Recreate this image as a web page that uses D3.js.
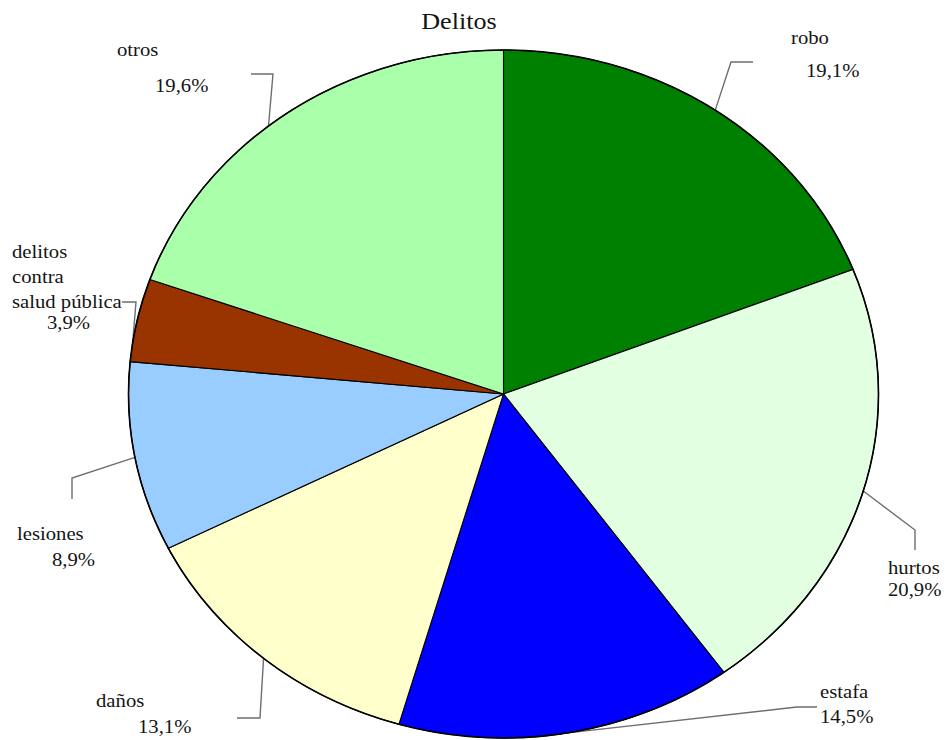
<!DOCTYPE html>
<html>
<head>
<meta charset="utf-8">
<script src="https://cdn.jsdelivr.net/npm/d3@7"></script>
<style>
  html, body { margin: 0; padding: 0; background: #ffffff; }
  svg { display: block; }
</style>
</head>
<body>
<svg id="chart" width="946" height="740"></svg>
<script>
// Data
const title = "Delitos";
const categories = ["robo", "hurtos", "estafa", "daños", "lesiones", "delitos contra salud pública", "otros"];
const nameLines = [["robo"], ["hurtos"], ["estafa"], ["daños"], ["lesiones"], ["delitos", "contra", "salud pública"], ["otros"]];
const values = [19.1, 20.9, 14.5, 13.1, 8.9, 3.9, 19.6];
const colors = ["#008000", "#e2ffe2", "#0000ff", "#ffffcc", "#99ccff", "#993300", "#aaffaa"];

// Layout of the labels: elbow points of each leader, text positions
const labelLayout = [
  { elbow: [[731, 62], [753, 62]],  name: [791, 44],  pct: [806, 77],  anchor: 0.5 },
  { elbow: [[915, 530], [915, 550]], name: [888, 574], pct: [888, 596], anchor: 0.5 },
  { elbow: [[797, 707], [817, 707]], name: [820, 698], pct: [820, 723], anchor: 0.5 },
  { elbow: [[260, 718], [237, 718]], name: [96, 707],  pct: [138, 733], anchor: 0.5 },
  { elbow: [[72, 478], [72, 499]],   name: [17, 540],  pct: [52, 566],  anchor: 0.5 },
  { elbow: [[136, 302], [122, 302]], name: [12, 258],  pct: [47, 329],  anchor: 0.22, lineGap: 25 },
  { elbow: [[273, 74], [251, 74]],   name: [117, 56],  pct: [155, 92],  anchor: 0.45 }
];

const cx = 503.5, cy = 394, rx = 375, ry = 344;
const stretch = rx / ry;          // horizontal stretch shared by pie and text
const fontSize = 19;
const fontFamily = "'Liberation Serif', 'Times New Roman', Times, 'DejaVu Serif', serif";

const svg = d3.select("#chart");

const pie = d3.pie().sort(null).value(d => d)(values);
const arc = d3.arc().innerRadius(0).outerRadius(ry);

const fmt = v => d3.format(".1f")(v).replace(".", ",") + "%";

// Leader lines (start on the ellipse edge)
const edgePoint = (a) => [cx + rx * Math.sin(a), cy - ry * Math.cos(a)];
const line = d3.line();
svg.append("g")
  .selectAll("path")
  .data(pie)
  .join("path")
  .attr("d", (d, i) => {
    const L = labelLayout[i];
    const a = d.startAngle + (d.endAngle - d.startAngle) * L.anchor;
    return line([edgePoint(a), ...L.elbow]);
  })
  .attr("fill", "none")
  .attr("stroke", "#6e6e6e")
  .attr("stroke-width", 1.4);

// Slices, drawn on a circle and stretched into the ellipse
const g = svg.append("g").attr("transform", `translate(${cx},${cy}) scale(${stretch},1)`);
g.selectAll("path.slice")
  .data(pie)
  .join("path")
  .attr("class", "slice")
  .attr("d", arc)
  .attr("fill", (d, i) => colors[i])
  .attr("stroke", "#000")
  .attr("stroke-width", 1.1)
  .attr("vector-effect", "non-scaling-stroke");

// Outer rim
g.append("circle")
  .attr("r", ry)
  .attr("fill", "none")
  .attr("stroke", "#000")
  .attr("stroke-width", 1.6)
  .attr("vector-effect", "non-scaling-stroke");

// Title
svg.append("text")
  .attr("transform", `translate(459,29) scale(${stretch},1)`)
  .attr("text-anchor", "middle")
  .attr("font-family", fontFamily)
  .attr("fill", "#141414")
  .attr("font-size", 24)
  .text(title);

// Labels
const labels = svg.append("g")
  .attr("font-family", fontFamily)
  .attr("fill", "#141414");
nameLines.forEach((lines, i) => {
  const L = labelLayout[i];
  const gap = L.lineGap || 25;
  lines.forEach((t, k) => {
    labels.append("text")
      .attr("transform", `translate(${L.name[0]},${L.name[1] + k * gap}) scale(${stretch},1)`)
      .attr("font-size", fontSize)
      .text(t);
  });
  labels.append("text")
    .attr("transform", `translate(${L.pct[0]},${L.pct[1]}) scale(${stretch},1)`)
    .attr("font-size", fontSize)
    .text(fmt(values[i]));
});
</script>
</body>
</html>
